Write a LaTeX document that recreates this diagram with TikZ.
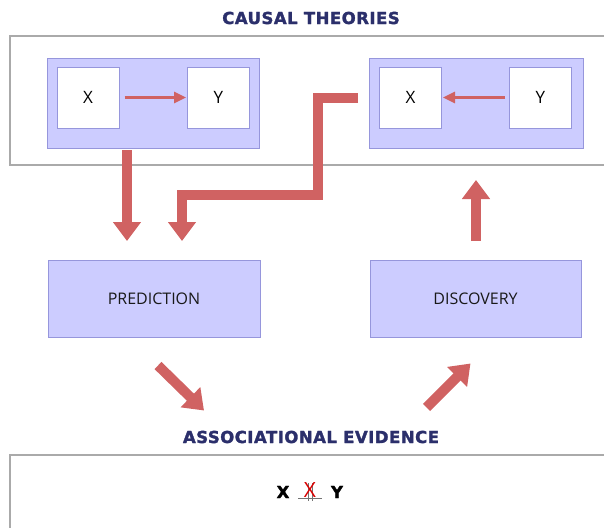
\documentclass[tikz,border=0pt]{standalone}
\usepackage{fontspec}
\setmainfont{Open Sans}
\newfontfamily\titlefont{DejaVu Sans}[LetterSpace=3,FakeBold=1.8]
\usetikzlibrary{arrows.meta,calc}

\definecolor{arrowred}{RGB}{208,98,98}
\definecolor{boxblue}{RGB}{204,204,255}
\definecolor{boxline}{RGB}{150,150,220}
\definecolor{titleblue}{RGB}{43,47,107}
\definecolor{frame}{RGB}{170,170,170}

\begin{document}
\begin{tikzpicture}[
    x=1pt, y=-1pt,
    panel/.style={draw=boxline, fill=boxblue, line width=1pt, inner sep=0pt},
    var/.style={draw=boxline, fill=white, line width=1pt,
                minimum width=62pt, minimum height=61pt,
                font=\fontsize{17}{17}\selectfont},
    stage/.style={panel, minimum width=212pt, minimum height=77pt,
                  font=\fontsize{16}{16}\selectfont, text=black!90},
    heading/.style={font=\titlefont\bfseries\fontsize{16.5}{16.5}\selectfont, text=titleblue},
    evid/.style={font=\titlefont\bfseries\fontsize{16.5}{16.5}\selectfont},
    thin/.style={-{Triangle[width=11pt,length=12pt]}, arrowred, line width=2.5pt},
    bigarrow/.style={-{Triangle[width=27pt,length=19pt]}, arrowred, line width=10pt},
    outer/.style={draw=frame, line width=1.5pt}
]
\useasboundingbox (0,0) rectangle (604,527);

% frames
\draw[outer] (10,36) rectangle (615,165);
\draw[outer] (10,455) rectangle (615,540);
\node[heading] (causal) at (311,18) {CAUSAL THEORIES};
\node[heading] (assoc) at (311,437) {ASSOCIATIONAL EVIDENCE};

% theories
\node[panel, minimum width=212pt, minimum height=90pt] (left) at (153,103) {};
\node[panel, minimum width=214pt, minimum height=90pt] (right) at (476,103) {};
\node[var] (xl) at (88,97.5) {X};
\node[var] (yl) at (218.5,97.5) {Y};
\node[var] (xr) at (410.5,97.5) {X};
\node[var] (yr) at (540.5,97.5) {Y};
\draw[thin, shorten <=5pt, shorten >=1pt] (xl) -- (yl);
\draw[thin, shorten <=4pt, shorten >=1pt] (yr) -- (xr);

% stages
\node[stage] (pred) at (154,298.5) {PREDICTION};
\node[stage, minimum width=211pt] (disc) at (475.5,298.5) {DISCOVERY};

% big arrows
\coordinate (ltop) at (127,150);
\coordinate (lend) at (127,241);
\coordinate (etop) at (358,98);
\coordinate (ebend) at (318,195);
\coordinate (eend) at (182,241);
\coordinate (ubot) at (476,241);
\coordinate (utop) at (476,180);
\draw[bigarrow] (ltop) -- (lend);
\draw[bigarrow] (etop) -| (ebend) -| (eend);
\draw[bigarrow] (ubot) -- (utop);
\draw[bigarrow] ($(pred.south)+(4,28)$) -- ($(pred.south)+(50,73)$);
\draw[bigarrow] ($(disc.south)+(-49,70)$) -- ($(disc.south)+(-5,26)$);

% evidence: X, crossed-out independence sign, Y
\node[evid] (ex) at (283,492) {X};
\node[evid] (ey) at (337,492) {Y};
\draw[black!55, line width=1pt] (298,498) -- (322,498);
\draw[black!55, line width=1.3pt] (308.5,483) -- (308.5,501) (312.5,483) -- (312.5,501);
\node[text=red!85!black, font=\fontsize{21}{21}\selectfont, inner sep=0pt] (cross) at (310,490) {X};
\end{tikzpicture}
\end{document}
